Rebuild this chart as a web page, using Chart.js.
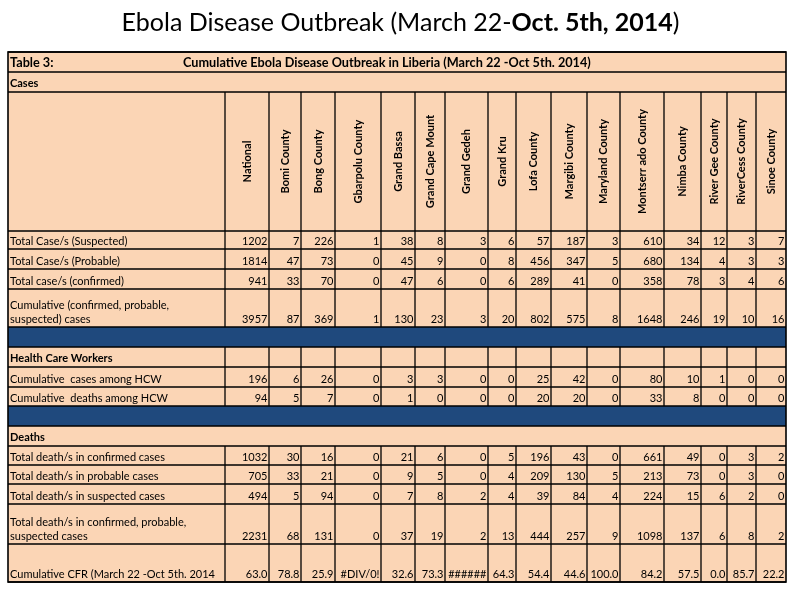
<!DOCTYPE html>
<html>
<head>
<meta charset="utf-8">
<title>Ebola Disease Outbreak</title>
<script src="https://cdn.jsdelivr.net/npm/chart.js@4.4.0/dist/chart.umd.min.js"></script>
<style>
    html, body { margin: 0; padding: 0; background: #ffffff; }
    #wrap { width: 797px; height: 597px; position: relative; }
</style>
</head>
<body>
<div id="wrap"><canvas id="tabla"></canvas></div>
<script>
// Columnas del cuadro
const counties = ['National', 'Bomi County', 'Bong County', 'Gbarpolu County', 'Grand Bassa',
    'Grand Cape Mount', 'Grand Gedeh', 'Grand Kru', 'Lofa County', 'Margibi County',
    'Maryland County', 'Montserr ado County', 'Nimba County', 'River Gee County',
    'RiverCess County', 'Sinoe County'];

// Casos
const casesSuspected = [1202, 7, 226, 1, 38, 8, 3, 6, 57, 187, 3, 610, 34, 12, 3, 7];
const casesProbable = [1814, 47, 73, 0, 45, 9, 0, 8, 456, 347, 5, 680, 134, 4, 3, 3];
const casesConfirmed = [941, 33, 70, 0, 47, 6, 0, 6, 289, 41, 0, 358, 78, 3, 4, 6];
const casesCumulative = [3957, 87, 369, 1, 130, 23, 3, 20, 802, 575, 8, 1648, 246, 19, 10, 16];

// Trabajadores de salud
const hcwCases = [196, 6, 26, 0, 3, 3, 0, 0, 25, 42, 0, 80, 10, 1, 0, 0];
const hcwDeaths = [94, 5, 7, 0, 1, 0, 0, 0, 20, 20, 0, 33, 8, 0, 0, 0];

// Muertes
const deathsConfirmed = [1032, 30, 16, 0, 21, 6, 0, 5, 196, 43, 0, 661, 49, 0, 3, 2];
const deathsProbable = [705, 33, 21, 0, 9, 5, 0, 4, 209, 130, 5, 213, 73, 0, 3, 0];
const deathsSuspected = [494, 5, 94, 0, 7, 8, 2, 4, 39, 84, 4, 224, 15, 6, 2, 0];
const deathsTotal = [2231, 68, 131, 0, 37, 19, 2, 13, 444, 257, 9, 1098, 137, 6, 8, 2];

// Tasa de letalidad (los errores de Excel se dejan tal cual)
const cfr = [63.0, 78.8, 25.9, '#DIV/0!', 32.6, 73.3, '######', 64.3, 54.4, 44.6, 100.0, 84.2, 57.5, 0.0, 85.7, 22.2];

const tableTitle = 'Cumulative Ebola Disease Outbreak in Liberia (March 22 -Oct 5th. 2014)';

// Disposicion: anchos de columna y filas (alto en unidades de la escala)
const colWidths = [217, 44, 32, 34, 46, 34, 30, 43, 28, 35, 36, 33, 44, 37, 26, 29, 30];
const rows = [
    { type: 'titulo', h: 20 },
    { type: 'seccion', label: 'Cases', h: 20 },
    { type: 'cabecera', h: 139 },
    { type: 'datos', label: ['Total Case/s (Suspected)'], values: casesSuspected, h: 18 },
    { type: 'datos', label: ['Total Case/s (Probable)'], values: casesProbable, h: 20 },
    { type: 'datos', label: ['Total case/s (confirmed)'], values: casesConfirmed, h: 20 },
    { type: 'datos', label: ['Cumulative (confirmed, probable,', 'suspected) cases'], values: casesCumulative, h: 38 },
    { type: 'azul', h: 20 },
    { type: 'seccionGrid', label: 'Health Care Workers', h: 20 },
    { type: 'datos', label: ['Cumulative  cases among HCW'], values: hcwCases, h: 20 },
    { type: 'datos', label: ['Cumulative  deaths among HCW'], values: hcwDeaths, h: 19 },
    { type: 'azul', h: 20 },
    { type: 'seccion', label: 'Deaths', h: 20 },
    { type: 'datos', label: ['Total death/s in confirmed cases'], values: deathsConfirmed, h: 19 },
    { type: 'datos', label: ['Total death/s in probable cases'], values: deathsProbable, h: 19 },
    { type: 'datos', label: ['Total death/s in suspected cases'], values: deathsSuspected, h: 20 },
    { type: 'datos', label: ['Total death/s in confirmed, probable,', 'suspected cases'], values: deathsTotal, h: 40 },
    { type: 'datos', label: ['Cumulative CFR (March 22 -Oct 5th. 2014'], values: cfr, h: 38, decimals: 1 }
];

const PEACH = '#fbd5b5';
const BLUE = '#1f497d';
const FONT = 'Lato, "Open Sans", sans-serif';

const colEdges = [0];
colWidths.forEach(w => colEdges.push(colEdges[colEdges.length - 1] + w));
const rowEdges = [0];
rows.forEach(r => rowEdges.push(rowEdges[rowEdges.length - 1] + r.h));
const totalW = colEdges[colEdges.length - 1];
const totalH = rowEdges[rowEdges.length - 1];

// Un dataset por fila de datos: cada punto queda en la esquina inferior derecha de su celda
const datasets = [];
rows.forEach((r, i) => {
    if (r.type !== 'datos') return;
    datasets.push({
        label: r.label.join(' '),
        rowIndex: i,
        data: r.values.map((v, j) => ({ x: colEdges[j + 2], y: rowEdges[i + 1], v: v })),
        pointRadius: 0,
        pointHoverRadius: 0,
        showLine: false
    });
});

function formatValue(v, decimals) {
    if (typeof v !== 'number') return v;
    return decimals ? v.toFixed(decimals) : String(v);
}

const tablePlugin = {
    id: 'tabla',
    beforeDatasetsDraw(chart) {
        const ctx = chart.ctx;
        const X = v => chart.scales.x.getPixelForValue(v);
        const Y = v => chart.scales.y.getPixelForValue(v);
        ctx.save();
        // fondo
        ctx.fillStyle = PEACH;
        ctx.fillRect(X(0), Y(0), X(totalW) - X(0), Y(totalH) - Y(0));
        rows.forEach((r, i) => {
            if (r.type === 'azul') {
                ctx.fillStyle = BLUE;
                ctx.fillRect(X(0), Y(rowEdges[i]), X(totalW) - X(0), Y(rowEdges[i + 1]) - Y(rowEdges[i]));
            }
        });
        // lineas
        ctx.strokeStyle = '#000000';
        ctx.lineWidth = 1.3;
        ctx.beginPath();
        rowEdges.forEach(e => {
            ctx.moveTo(X(0), Y(e));
            ctx.lineTo(X(totalW), Y(e));
        });
        rows.forEach((r, i) => {
            if (r.type !== 'cabecera' && r.type !== 'datos' && r.type !== 'seccionGrid') return;
            for (let c = 1; c < colEdges.length - 1; c++) {
                ctx.moveTo(X(colEdges[c]), Y(rowEdges[i]));
                ctx.lineTo(X(colEdges[c]), Y(rowEdges[i + 1]));
            }
        });
        ctx.stroke();
        ctx.lineWidth = 1.6;
        ctx.strokeRect(X(0), Y(0), X(totalW) - X(0), Y(totalH) - Y(0));
        ctx.restore();
    },
    afterDatasetsDraw(chart) {
        const ctx = chart.ctx;
        const X = v => chart.scales.x.getPixelForValue(v);
        const Y = v => chart.scales.y.getPixelForValue(v);
        ctx.save();
        ctx.fillStyle = '#000000';
        rows.forEach((r, i) => {
            const bottom = Y(rowEdges[i + 1]);
            if (r.type === 'titulo') {
                ctx.font = 'bold 12.7px ' + FONT;
                ctx.textAlign = 'left';
                ctx.fillText('Table 3:', X(0) + 2, bottom - 5);
                ctx.fillText(tableTitle, X(175), bottom - 5);
            } else if (r.type === 'seccion' || r.type === 'seccionGrid') {
                ctx.font = 'bold 11px ' + FONT;
                ctx.textAlign = 'left';
                ctx.fillText(r.label, X(0) + 2, bottom - 5);
            } else if (r.type === 'cabecera') {
                ctx.font = 'bold 11px ' + FONT;
                ctx.textAlign = 'center';
                ctx.textBaseline = 'middle';
                const cy = (Y(rowEdges[i]) + bottom) / 2;
                counties.forEach((name, j) => {
                    const cx = (X(colEdges[j + 1]) + X(colEdges[j + 2])) / 2;
                    ctx.save();
                    ctx.translate(cx, cy);
                    ctx.rotate(-Math.PI / 2);
                    ctx.fillText(name, 0, 0);
                    ctx.restore();
                });
                ctx.textBaseline = 'alphabetic';
            } else if (r.type === 'datos') {
                ctx.font = '11px ' + FONT;
                ctx.textAlign = 'left';
                r.label.forEach((line, k) => {
                    const fromBottom = r.label.length - 1 - k;
                    ctx.fillText(line, X(0) + 2, bottom - 4 - fromBottom * 14.5);
                });
            }
        });
        // valores, leidos desde los puntos del dataset
        ctx.font = '11px ' + FONT;
        ctx.textAlign = 'right';
        chart.data.datasets.forEach((ds, k) => {
            const r = rows[ds.rowIndex];
            chart.getDatasetMeta(k).data.forEach((el, j) => {
                ctx.fillText(formatValue(ds.data[j].v, r.decimals), el.x - 1.5, el.y - 4);
            });
        });
        ctx.restore();
    },
    afterDraw(chart) {
        // titulo con parte en negrita
        const ctx = chart.ctx;
        const parts = [
            { t: 'Ebola Disease Outbreak (March 22-', f: '25px ' + FONT },
            { t: 'Oct. 5th, 2014', f: 'bold 25px ' + FONT },
            { t: ')', f: '25px ' + FONT }
        ];
        ctx.save();
        ctx.fillStyle = '#000000';
        ctx.textAlign = 'left';
        let total = 0;
        parts.forEach(p => { ctx.font = p.f; p.w = ctx.measureText(p.t).width; total += p.w; });
        let x = chart.width / 2 + 2 - total / 2;
        parts.forEach(p => {
            ctx.font = p.f;
            ctx.fillText(p.t, x, 31);
            x += p.w;
        });
        ctx.restore();
    }
};

const ctx = document.getElementById('tabla').getContext('2d');
const myChart = new Chart(ctx, {
    type: 'scatter',
    data: { datasets: datasets },
    options: {
        responsive: true,
        maintainAspectRatio: false,
        animation: false,
        events: [],
        layout: { padding: { left: 8, top: 52, right: 11, bottom: 15 } },
        plugins: {
            legend: { display: false },
            tooltip: { enabled: false },
            title: { display: false }
        },
        scales: {
            x: { type: 'linear', min: 0, max: totalW, display: false },
            y: { type: 'linear', min: 0, max: totalH, reverse: true, display: false }
        }
    },
    plugins: [tablePlugin]
});
</script>
</body>
</html>
